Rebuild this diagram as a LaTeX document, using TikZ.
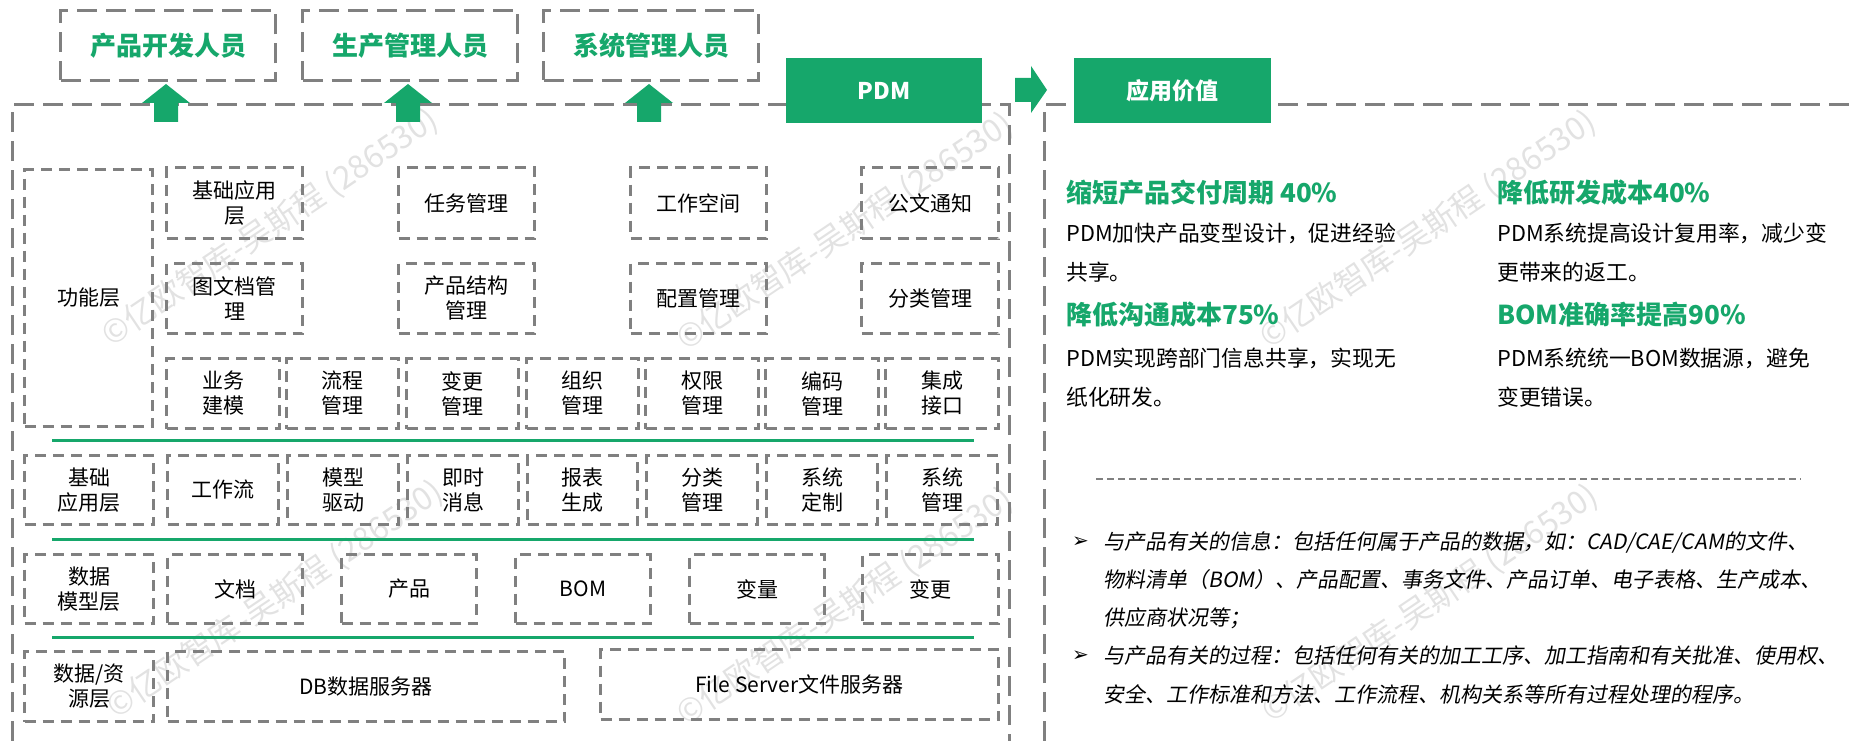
\documentclass[tikz,border=0pt]{standalone}
\usepackage{fontspec}
\setmainfont{Noto Sans CJK SC}
\newfontfamily\itfont[FakeSlant=0.18]{Noto Sans CJK SC}
\newfontfamily\symfont{DejaVu Sans}
\definecolor{pdmgreen}{RGB}{22,167,107}
\definecolor{dashgray}{RGB}{128,128,128}
\definecolor{wmgray}{RGB}{226,226,226}
\newcommand\pdmbox[7]{\node[#1,minimum width=#4pt-#2pt,minimum height=#5pt-#3pt] (#6) at (#2,#3) {#7};}
\begin{document}
\begin{tikzpicture}[x=1pt,y=-1pt,
 frame/.style={draw=dashgray, line width=3pt, dash pattern=on 20pt off 9pt},
 ibox/.style={draw=dashgray, line width=3pt, dash pattern=on 11pt off 7pt, align=center, inner sep=0pt, font=\fontsize{21}{25}\selectfont, anchor=north west},
 tbox/.style={draw=dashgray, line width=3pt, dash pattern=on 20pt off 9pt, anchor=north west, inner sep=0pt, text=pdmgreen, font=\fontsize{26}{30}\selectfont\bfseries},
 gbox/.style={fill=pdmgreen, anchor=north west, inner sep=0pt, text=white, font=\fontsize{23}{27}\selectfont\bfseries},
 gline/.style={draw=pdmgreen, line width=3pt},
 head/.style={anchor=west, inner sep=0pt, text=pdmgreen, font=\fontsize{26}{30}\selectfont\bfseries},
 body/.style={anchor=west, inner sep=0pt, font=\fontsize{21.8}{25}\selectfont},
 note/.style={anchor=west, inner sep=0pt, font=\fontsize{21}{25}\selectfont\itfont},
 bul/.style={anchor=west, inner sep=0pt, font=\fontsize{20}{22}\selectfont\symfont},
 wm/.style={text=wmgray, rotate=34, inner sep=0pt, font=\fontsize{32}{36}\selectfont},
 sep/.style={draw=dashgray, line width=1.2pt, dash pattern=on 7pt off 4pt},
]
\useasboundingbox (0,0) rectangle (1849,741);
% watermarks
\node[wm] (w1) at (270,228) {©亿欧智库-吴斯程 (286530)};
\node[wm] (w2) at (845,232) {©亿欧智库-吴斯程 (286530)};
\node[wm] (w3) at (1428,230) {©亿欧智库-吴斯程 (286530)};
\node[wm] (w4) at (275,600) {©亿欧智库-吴斯程 (286530)};
\node[wm] (w5) at (845,607) {©亿欧智库-吴斯程 (286530)};
\node[wm] (w6) at (1430,604) {©亿欧智库-吴斯程 (286530)};

% frames
\draw[frame] (12,741) -- (12,105) -- (1009,105) -- (1009,741);
\draw[frame] (1044,741) -- (1044,105) -- (1849,105);

% top boxes
\pdmbox{tbox}{59}{9}{274}{79}{t1}{产品开发人员}
\pdmbox{tbox}{301}{9}{516}{79}{t2}{生产管理人员}
\pdmbox{tbox}{542}{9}{757}{79}{t3}{系统管理人员}

% up arrows
\foreach \cx/\nm in {166/a1,408/a2,649/a3}{
  \coordinate (\nm) at (\cx,84);
  \fill[pdmgreen] (\nm) -- ++(24,19) -- ++(-12,0) -- ++(0,19) -- ++(-24,0) -- ++(0,-19) -- ++(-12,0) -- cycle;
}

% green title boxes
\pdmbox{gbox}{786}{58}{982}{123}{pdm}{PDM}
\pdmbox{gbox}{1074}{58}{1271}{123}{val}{应用价值}
\coordinate (ra) at (1047,90);
\fill[pdmgreen] (ra) -- ++(-16,23) -- ++(0,-11) -- ++(-16,0) -- ++(0,-24) -- ++(16,0) -- ++(0,-12) -- cycle;

% function layer
\pdmbox{ibox}{23}{168}{151}{425}{fl}{功能层}
\pdmbox{ibox}{165}{166}{301}{237}{f11}{基础应用\\层}
\pdmbox{ibox}{397}{166}{533}{237}{f12}{任务管理}
\pdmbox{ibox}{629}{166}{765}{237}{f13}{工作空间}
\pdmbox{ibox}{860}{166}{997}{237}{f14}{公文通知}
\pdmbox{ibox}{165}{262}{301}{332}{f21}{图文档管\\理}
\pdmbox{ibox}{397}{262}{533}{332}{f22}{产品结构\\管理}
\pdmbox{ibox}{629}{262}{765}{332}{f23}{配置管理}
\pdmbox{ibox}{860}{262}{997}{332}{f24}{分类管理}
\pdmbox{ibox}{165}{357}{278}{427}{f31}{业务\\建模}
\pdmbox{ibox}{285}{357}{397}{427}{f32}{流程\\管理}
\pdmbox{ibox}{405}{357}{517}{427}{f33}{变更\\管理}
\pdmbox{ibox}{525}{357}{637}{427}{f34}{组织\\管理}
\pdmbox{ibox}{644}{357}{757}{427}{f35}{权限\\管理}
\pdmbox{ibox}{764}{357}{877}{427}{f36}{编码\\管理}
\pdmbox{ibox}{884}{357}{997}{427}{f37}{集成\\接口}

\draw[gline] (52,440) coordinate (g1a) -- (974,440) coordinate (g1b);

% basic application layer
\pdmbox{ibox}{23}{454}{152}{523}{b0}{基础\\应用层}
\pdmbox{ibox}{166}{454}{277}{523}{b1}{工作流}
\pdmbox{ibox}{286}{454}{397}{523}{b2}{模型\\驱动}
\pdmbox{ibox}{406}{454}{517}{523}{b3}{即时\\消息}
\pdmbox{ibox}{526}{454}{636}{523}{b4}{报表\\生成}
\pdmbox{ibox}{645}{454}{756}{523}{b5}{分类\\管理}
\pdmbox{ibox}{765}{454}{876}{523}{b6}{系统\\定制}
\pdmbox{ibox}{885}{454}{996}{523}{b7}{系统\\管理}

\draw[gline] (52,539) coordinate (g2a) -- (974,539) coordinate (g2b);

% data model layer
\pdmbox{ibox}{23}{553}{152}{622}{d0}{数据\\模型层}
\pdmbox{ibox}{166}{553}{301}{622}{d1}{文档}
\pdmbox{ibox}{340}{553}{475}{622}{d2}{产品}
\pdmbox{ibox}{514}{553}{649}{622}{d3}{BOM}
\pdmbox{ibox}{688}{553}{823}{622}{d4}{变量}
\pdmbox{ibox}{861}{553}{997}{622}{d5}{变更}

\draw[gline] (52,637) coordinate (g3a) -- (974,637) coordinate (g3b);

% data / resource layer
\pdmbox{ibox}{23}{650}{152}{720}{r0}{数据/资\\源层}
\pdmbox{ibox}{166}{650}{563}{720}{r1}{DB数据服务器}
\pdmbox{ibox}{599}{648}{997}{718}{r2}{File Server文件服务器}

% right panel
\node[head] (h1) at (1066,193) {缩短产品交付周期 40\%};
\node[body] (h1a) at (1066,233) {PDM加快产品变型设计，促进经验};
\node[body] (h1b) at (1066,272) {共享。};
\node[head] (h3) at (1066,315) {降低沟通成本75\%};
\node[body] (h3a) at (1066,358) {PDM实现跨部门信息共享，实现无};
\node[body] (h3b) at (1066,397) {纸化研发。};
\node[head] (h2) at (1497,193) {降低研发成本40\%};
\node[body] (h2a) at (1497,233) {PDM系统提高设计复用率，减少变};
\node[body] (h2b) at (1497,272) {更带来的返工。};
\node[head] (h4) at (1497,315) {BOM准确率提高90\%};
\node[body] (h4a) at (1497,358) {PDM系统统一BOM数据源，避免};
\node[body] (h4b) at (1497,397) {变更错误。};

\draw[sep] (1096,479) coordinate (s1) -- (1801,479) coordinate (s2);

\node[bul] (bu1) at (1072,542) {➢};
\node[note] (n1) at (1103,542) {与产品有关的信息：包括任何属于产品的数据，如：CAD/CAE/CAM的文件、};
\node[note] (n2) at (1103,580) {物料清单（BOM）、产品配置、事务文件、产品订单、电子表格、生产成本、};
\node[note] (n3) at (1103,618) {供应商状况等；};
\node[bul] (bu2) at (1072,656) {➢};
\node[note] (n4) at (1103,656) {与产品有关的过程：包括任何有关的加工工序、加工指南和有关批准、使用权、};
\node[note] (n5) at (1103,694) {安全、工作标准和方法、工作流程、机构关系等所有过程处理的程序。};
\end{tikzpicture}
\end{document}
